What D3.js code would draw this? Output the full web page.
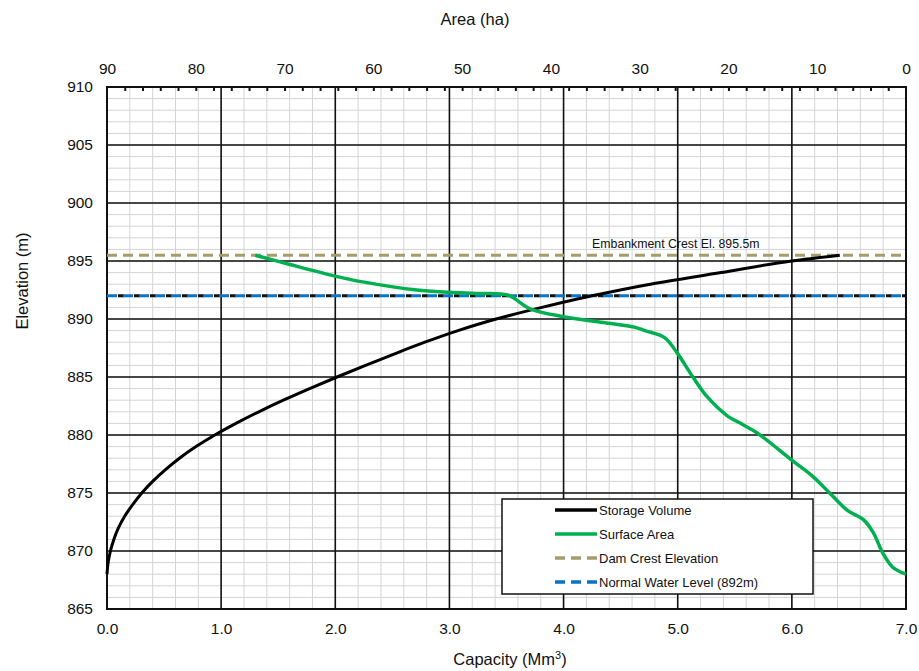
<!DOCTYPE html>
<html>
<head>
<meta charset="utf-8">
<script src="https://cdn.jsdelivr.net/npm/d3@7"></script>
<style>
  body { margin: 0; background: #fff; }
  text { font-family: "Liberation Sans", Arial, sans-serif; fill: #111; }
</style>
</head>
<body>
<svg id="chart" width="919" height="671"></svg>
<script>
// storage volume curve: elevation (m) vs capacity (Mm3)
var volElev = [868, 869, 870, 871, 872, 873, 874, 875, 876, 877, 878, 879, 880, 881, 882, 883, 884, 885, 886, 887, 888, 889, 890, 891, 892, 893, 894, 895, 895.5];
var volCap = [0, 0.01, 0.03, 0.06, 0.1, 0.155, 0.225, 0.305, 0.4, 0.51, 0.635, 0.78, 0.945, 1.13, 1.33, 1.545, 1.775, 2.015, 2.265, 2.52, 2.785, 3.075, 3.41, 3.81, 4.25, 4.76, 5.38, 6.0, 6.42];

// surface area curve: elevation (m) vs area (ha)
var areaElev = [895.5, 894.7, 893.7, 893.2, 892.5, 892.3, 892.2, 892.07, 890.9, 890.2, 889.7, 889.3, 889.0, 888.4, 887.1, 885.0, 883.3, 881.7, 880.9, 880.2, 877.8, 876.5, 875.0, 873.5, 872.7, 871.6, 869.8, 868.6, 868.0];
var areaHa = [73.3, 69.4, 64.3, 61.2, 55.1, 51.4, 48.5, 44.9, 42.4, 38.6, 34.1, 30.6, 29.4, 27.2, 25.8, 24.0, 22.4, 20.2, 18.4, 16.8, 12.8, 10.6, 8.6, 6.6, 4.8, 3.7, 2.6, 1.5, 0];

var capTicks = [0, 1, 2, 3, 4, 5, 6, 7];
var areaTicks = [90, 80, 70, 60, 50, 40, 30, 20, 10, 0];
var elevTicks = [865, 870, 875, 880, 885, 890, 895, 900, 905, 910];

var crestElev = 895.5;
var nwlElev = 892;

var legendNames = ['Storage Volume', 'Surface Area', 'Dam Crest Elevation', 'Normal Water Level (892m)'];

var margin = {top: 87, right: 13, bottom: 62, left: 107};
var width = 919 - margin.left - margin.right;
var height = 671 - margin.top - margin.bottom;

var svg = d3.select('#chart');
var g = svg.append('g').attr('transform', 'translate(' + margin.left + ',' + margin.top + ')');

var x = d3.scaleLinear().domain([0, 7]).range([0, width]);
var xTop = d3.scaleLinear().domain([90, 0]).range([0, width]);
var y = d3.scaleLinear().domain([865, 910]).range([height, 0]);

// minor grid
g.append('g').selectAll('line').data(d3.range(0, 7.01, 0.2)).enter()
  .append('line')
  .attr('x1', function(d) { return x(d); }).attr('x2', function(d) { return x(d); })
  .attr('y1', 0).attr('y2', height)
  .attr('stroke', '#d4d4d4').attr('stroke-width', 1);
g.append('g').selectAll('line').data(d3.range(865, 910.5, 1)).enter()
  .append('line')
  .attr('y1', function(d) { return y(d); }).attr('y2', function(d) { return y(d); })
  .attr('x1', 0).attr('x2', width)
  .attr('stroke', '#d4d4d4').attr('stroke-width', 1);

// major grid
g.append('g').selectAll('line').data(capTicks).enter()
  .append('line')
  .attr('x1', function(d) { return x(d); }).attr('x2', function(d) { return x(d); })
  .attr('y1', 0).attr('y2', height)
  .attr('stroke', '#111').attr('stroke-width', 1.6);
g.append('g').selectAll('line').data(elevTicks).enter()
  .append('line')
  .attr('y1', function(d) { return y(d); }).attr('y2', function(d) { return y(d); })
  .attr('x1', 0).attr('x2', width)
  .attr('stroke', '#111').attr('stroke-width', 1.6);

// frame
g.append('rect').attr('width', width).attr('height', height)
  .attr('fill', 'none').attr('stroke', '#111').attr('stroke-width', 2);

// axes
var bottomAxis = g.append('g').attr('transform', 'translate(0,' + height + ')')
  .call(d3.axisBottom(x).tickValues(capTicks).tickFormat(d3.format('.1f')).tickSize(0).tickPadding(14));
var leftAxis = g.append('g')
  .call(d3.axisLeft(y).tickValues(elevTicks).tickSize(0).tickPadding(14));
var topAxis = g.append('g')
  .call(d3.axisTop(xTop).tickValues(areaTicks).tickSize(0).tickPadding(13));
var topMinor = g.append('g')
  .call(d3.axisBottom(xTop).tickValues(d3.range(88, 0, -2)).tickSize(4).tickFormat(''));

[bottomAxis, leftAxis, topAxis, topMinor].forEach(function(a) {
  a.select('.domain').remove();
  a.selectAll('text').attr('font-size', 15.5).attr('font-family', '"Liberation Sans", Arial, sans-serif').attr('fill', '#111');
});
topMinor.selectAll('line').attr('stroke', '#111').attr('stroke-width', 2);

// reference lines
function hline(elev, color, dash, offset) {
  g.append('line')
    .attr('x1', 0).attr('x2', width)
    .attr('y1', y(elev)).attr('y2', y(elev))
    .attr('stroke', color).attr('stroke-width', 3)
    .attr('stroke-dasharray', dash)
    .attr('stroke-dashoffset', offset || 0);
}
hline(nwlElev, '#111', '6,10', -11);
hline(nwlElev, '#0a72c8', '10,6');
hline(crestElev, '#a39d6c', '10,6');

// curves
var volData = volElev.map(function(e, i) { return [volCap[i], e]; });
var areaData = areaElev.map(function(e, i) { return [areaHa[i], e]; });

g.append('path').datum(volData)
  .attr('fill', 'none').attr('stroke', '#000').attr('stroke-width', 3)
  .attr('d', d3.line().x(function(d) { return x(d[0]); }).y(function(d) { return y(d[1]); }).curve(d3.curveMonotoneY));

g.append('path').datum(areaData)
  .attr('fill', 'none').attr('stroke', '#00b050').attr('stroke-width', 3.5)
  .attr('stroke-linejoin', 'round')
  .attr('d', d3.line().x(function(d) { return xTop(d[0]); }).y(function(d) { return y(d[1]); }).curve(d3.curveCatmullRom));

// annotation
g.append('text')
  .attr('x', x(4.25)).attr('y', y(crestElev) - 7)
  .attr('font-family', 'Lato, "Open Sans", sans-serif')
  .attr('font-size', 12.3).attr('fill', '#333')
  .text('Embankment Crest El. ' + crestElev + 'm');

// axis titles
svg.append('text').attr('x', 475).attr('y', 25)
  .attr('text-anchor', 'middle').attr('font-size', 16.5).text('Area (ha)');

var capTitle = svg.append('text').attr('x', 510).attr('y', 665)
  .attr('text-anchor', 'middle').attr('font-size', 16.5);
capTitle.append('tspan').text('Capacity (Mm');
capTitle.append('tspan').attr('font-size', 11).attr('dy', -6).text('3');
capTitle.append('tspan').attr('dy', 6).text(')');

svg.append('text')
  .attr('transform', 'translate(28,281) rotate(-90)')
  .attr('text-anchor', 'middle').attr('font-size', 16.5).text('Elevation (m)');

// legend
var legend = svg.append('g').attr('transform', 'translate(502,499)');
legend.append('rect').attr('width', 311).attr('height', 95)
  .attr('fill', '#fff').attr('stroke', '#111').attr('stroke-width', 1.5);

var legendStyles = [
  {color: '#000', dash: null},
  {color: '#00b050', dash: null},
  {color: '#a39d6c', dash: '10,6'},
  {color: '#0a72c8', dash: '10,6'}
];

legendNames.forEach(function(name, i) {
  var row = legend.append('g').attr('transform', 'translate(0,' + (11 + i * 24) + ')');
  row.append('line')
    .attr('x1', 53).attr('x2', 95)
    .attr('stroke', legendStyles[i].color).attr('stroke-width', 3.5)
    .attr('stroke-dasharray', legendStyles[i].dash);
  row.append('text').attr('x', 97).attr('y', 5)
    .attr('font-size', 13).text(name);
});
</script>
</body>
</html>
